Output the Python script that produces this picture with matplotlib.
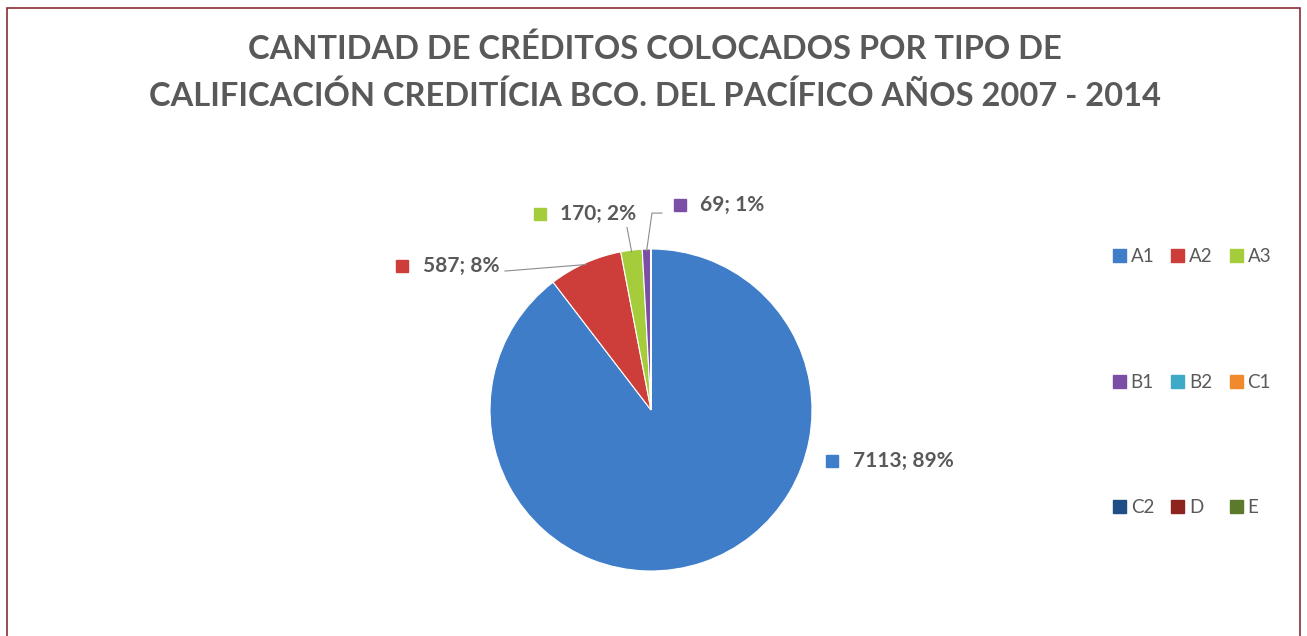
import matplotlib
matplotlib.use('Agg')
import matplotlib.pyplot as plt
import numpy as np
from matplotlib.patches import Rectangle, Patch

# data
categories = ['A1', 'A2', 'A3', 'B1', 'B2', 'C1', 'C2', 'D', 'E']
values = [7113, 587, 170, 69, 0, 0, 0, 0, 0]
pct_labels = [89, 8, 2, 1]          # percentages as printed on the chart
colors = ['#3F7DC8', '#CD3E3A', '#A5CD3B', '#7B4FA6', '#3FA9C8',
          '#F08A2C', '#1F4E85', '#8E2420', '#5C7A2C']

title_lines = ['CANTIDAD DE CRÉDITOS COLOCADOS POR TIPO DE',
               'CALIFICACIÓN CREDITÍCIA BCO. DEL PACÍFICO AÑOS 2007 - 2014']

# label layout (pie-axes units, radius = 1): marker position, text x, leader start
label_pos = [(1.124, -0.317), (-1.547, 0.894), (-0.689, 1.217), (0.179, 1.273)]
text_x = [1.255, -1.416, -0.565, 0.304]
leader_start = [None, [(-0.907, 0.863)], [(-0.149, 1.134)], [(0.068, 1.223), (0.006, 1.223)]]

gray = '#595959'
plt.rcParams['font.family'] = ['Lato', 'DejaVu Sans']

W, H = 1307, 636
fig = plt.figure(figsize=(W / 100, H / 100), dpi=100)
fig.patch.set_facecolor('white')

# chart frame
fig.add_artist(Rectangle((7 / W, -0.05), (1300 - 7) / W, (H - 8) / H + 0.05,
                         transform=fig.transFigure, fill=False,
                         edgecolor='#8B2B33', linewidth=1.2))

# title
fig.text(655 / W, 1 - 49 / H, title_lines[0], ha='center', va='center',
         fontsize=23.5, fontweight='bold', color=gray)
fig.text(655 / W, 1 - 96 / H, title_lines[1], ha='center', va='center',
         fontsize=23.5, fontweight='bold', color=gray)

# pie
cx, cy, r = 651, 410, 161
ax = fig.add_axes([(cx - r) / W, (H - cy - r) / H, 2 * r / W, 2 * r / H])
wedges, _ = ax.pie(values, colors=colors, startangle=90, counterclock=False,
                   radius=1, wedgeprops=dict(edgecolor='white', linewidth=0.8))
ax.set_xlim(-1, 1)
ax.set_ylim(-1, 1)
ax.axis('off')

# data labels
for i in range(4):
    mx, my = label_pos[i]
    ax.plot(mx, my, marker='s', markersize=8.5, color=colors[i], clip_on=False,
            markeredgecolor=colors[i])
    ax.text(text_x[i], my, f'{values[i]}; {pct_labels[i]}%', ha='left', va='center',
            fontsize=15, fontweight='bold', color=gray, clip_on=False)
    if leader_start[i] is not None:
        w = wedges[i]
        mid = np.deg2rad((w.theta1 + w.theta2) / 2)
        pts = leader_start[i] + [(0.99 * np.cos(mid), 0.99 * np.sin(mid))]
        xs, ys = zip(*pts)
        ax.plot(xs, ys, color='#8C8C8C', linewidth=0.8, clip_on=False)

# legend, filled row by row
order = [0, 3, 6, 1, 4, 7, 2, 5, 8]
handles = [Patch(facecolor=colors[k], edgecolor=colors[k]) for k in order]
labels = [categories[k] for k in order]
fig.legend(handles, labels, ncol=3, loc='upper left',
           bbox_to_anchor=(1096 / W, 1 - 231 / H), frameon=False,
           fontsize=13.5, labelcolor=gray, handlelength=0.7, handleheight=0.7,
           handletextpad=0.25, columnspacing=0.9, labelspacing=5.8)

fig.savefig('out.png', dpi=100)
